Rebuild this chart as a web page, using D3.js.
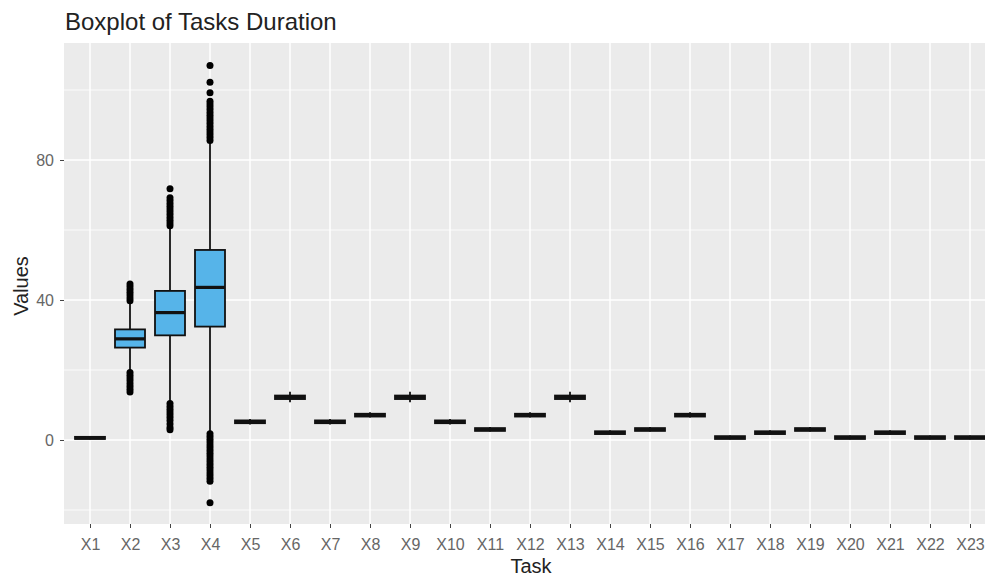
<!DOCTYPE html>
<head>
<meta charset='utf-8'>
<style>
  body { margin: 0; background: #fff; font-family: 'Liberation Sans', Arial, sans-serif; }
  .tick text { fill: #666; font-size: 16px; }
</style>
</head>
<body>
<div id='vis'></div>
<script src='https://cdn.jsdelivr.net/npm/d3@7/dist/d3.min.js'></script>
<script>
  const tasks = ['X1','X2','X3','X4','X5','X6','X7','X8','X9','X10','X11','X12',
    'X13','X14','X15','X16','X17','X18','X19','X20','X21','X22','X23']

  // five-number summaries
  const lower  = [0.2, 18.6, 11.0, -0.5, 4.4, 10.8, 4.4, 6.4, 10.8, 4.4, 2.4, 6.4, 10.8, 1.5, 2.4, 6.4, 0.2, 1.5, 2.4, 0.2, 1.5, 0.2, 0.2]
  const q1     = [0.3, 26.4, 29.9, 32.4, 4.8, 11.7, 4.8, 6.7, 11.7, 4.8, 2.6, 6.7, 11.7, 1.7, 2.6, 6.7, 0.3, 1.7, 2.6, 0.3, 1.7, 0.3, 0.3]
  const median = [0.6, 28.9, 36.4, 43.6, 5.2, 12.2, 5.2, 7.1, 12.2, 5.2, 3.0, 7.1, 12.2, 2.1, 3.0, 7.1, 0.7, 2.1, 3.0, 0.7, 2.1, 0.7, 0.7]
  const q3     = [0.9, 31.6, 42.6, 54.3, 5.6, 12.7, 5.6, 7.5, 12.7, 5.6, 3.4, 7.5, 12.7, 2.5, 3.4, 7.5, 1.1, 2.5, 3.4, 1.1, 2.5, 1.1, 1.1]
  const upper  = [1.1, 39.4, 60.6, 85.0, 6.0, 13.8, 6.0, 7.9, 13.8, 6.0, 3.7, 7.9, 13.8, 2.8, 3.7, 7.9, 1.3, 2.8, 3.7, 1.3, 2.8, 1.3, 1.3]

  const outX2 = [39.8, 40.6, 41.4, 42.2, 43.0, 43.8, 44.6, 19.3, 18.5, 17.7, 16.9, 16.1, 15.3, 14.5, 13.7]
  const outX3 = [61.2, 62.0, 62.8, 63.6, 64.4, 65.2, 66.0, 66.8, 67.6, 68.4, 69.2, 71.8,
    10.4, 9.6, 8.8, 8.0, 7.2, 6.4, 5.6, 4.6, 3.6, 2.9]
  const outX4 = [85.6, 86.4, 87.2, 88.0, 88.8, 89.6, 90.4, 91.2, 92.0, 92.8, 93.6, 94.4, 95.2, 96.0, 96.8, 99.2, 102.2, 107.0,
    1.8, 1.0, 0.2, -0.6, -1.4, -2.2, -3.0, -3.8, -4.6, -5.4, -6.2, -7.0, -7.8, -8.6, -9.4, -10.2, -11.0, -11.8, -17.9]
  const outliers = { X2: outX2, X3: outX3, X4: outX4 }

  const yTicks = [0, 40, 80]
  const yMinor = [-20, 20, 60, 100]

  const W = 985, H = 580
  const panel = { left: 64, right: 994, top: 43, bottom: 524 }

  const svg = d3.select('#vis').append('svg')
    .attr('width', W).attr('height', H)

  const x = d3.scalePoint().domain(tasks).range([90, 970])
  const y = d3.scaleLinear().domain([0, 80]).range([440, 160])

  svg.append('rect')
    .attr('x', panel.left).attr('y', panel.top)
    .attr('width', panel.right - panel.left).attr('height', panel.bottom - panel.top)
    .attr('fill', '#ebebeb')

  // grid
  svg.selectAll('.ymin').data(yMinor).enter().append('line')
    .attr('x1', panel.left).attr('x2', panel.right)
    .attr('y1', d => y(d)).attr('y2', d => y(d))
    .attr('stroke', '#fff').attr('stroke-width', 0.8)
  svg.selectAll('.ymaj').data(yTicks).enter().append('line')
    .attr('x1', panel.left).attr('x2', panel.right)
    .attr('y1', d => y(d)).attr('y2', d => y(d))
    .attr('stroke', '#fff').attr('stroke-width', 1.5)
  svg.selectAll('.xmaj').data(tasks).enter().append('line')
    .attr('x1', d => x(d)).attr('x2', d => x(d))
    .attr('y1', panel.top).attr('y2', panel.bottom)
    .attr('stroke', '#fff').attr('stroke-width', 1.5)

  const rows = tasks.map((t, i) => ({ t, lo: lower[i], q1: q1[i], med: median[i], q3: q3[i], hi: upper[i] }))
  const bw = 30

  const g = svg.append('g')
  // whiskers
  g.selectAll('.wh').data(rows).enter().append('line')
    .attr('x1', d => x(d.t)).attr('x2', d => x(d.t))
    .attr('y1', d => y(d.hi)).attr('y2', d => y(d.lo))
    .attr('stroke', '#111').attr('stroke-width', 1.8)
  // boxes
  g.selectAll('.box').data(rows).enter().append('rect')
    .attr('x', d => x(d.t) - bw / 2).attr('width', bw)
    .attr('y', d => y(d.q3)).attr('height', d => Math.max(y(d.q1) - y(d.q3), 0.5))
    .attr('fill', '#56b4e9').attr('stroke', '#111').attr('stroke-width', 1.8)
  // medians
  g.selectAll('.med').data(rows).enter().append('line')
    .attr('x1', d => x(d.t) - bw / 2).attr('x2', d => x(d.t) + bw / 2)
    .attr('y1', d => y(d.med)).attr('y2', d => y(d.med))
    .attr('stroke', '#111').attr('stroke-width', 3.2)

  // outliers
  Object.keys(outliers).forEach(t => {
    g.selectAll('.o' + t).data(outliers[t]).enter().append('circle')
      .attr('cx', x(t)).attr('cy', d => y(d)).attr('r', 3.5)
      .attr('fill', '#000')
  })

  // axes
  const xAxis = svg.append('g')
    .attr('transform', `translate(0,${panel.bottom})`)
    .call(d3.axisBottom(x).tickSize(4).tickPadding(10))
  xAxis.select('.domain').remove()
  xAxis.selectAll('.tick line').attr('stroke', '#444')

  const yAxis = svg.append('g')
    .attr('transform', `translate(${panel.left},0)`)
    .call(d3.axisLeft(y).tickValues(yTicks).tickSize(4).tickPadding(6))
  yAxis.select('.domain').remove()
  yAxis.selectAll('.tick line').attr('stroke', '#444')
  yAxis.selectAll('.tick text').attr('dy', '0.35em')
  xAxis.selectAll('.tick text').attr('dy', '0.72em')

  svg.append('text')
    .attr('x', 65).attr('y', 30)
    .attr('font-size', 24).attr('fill', '#222')
    .text('Boxplot of Tasks Duration')

  svg.append('text')
    .attr('x', 531).attr('y', 573)
    .attr('text-anchor', 'middle').attr('font-size', 20).attr('fill', '#222')
    .text('Task')

  svg.append('text')
    .attr('transform', `translate(28,286) rotate(-90)`)
    .attr('text-anchor', 'middle').attr('font-size', 20).attr('fill', '#222')
    .text('Values')
</script>
</body>
